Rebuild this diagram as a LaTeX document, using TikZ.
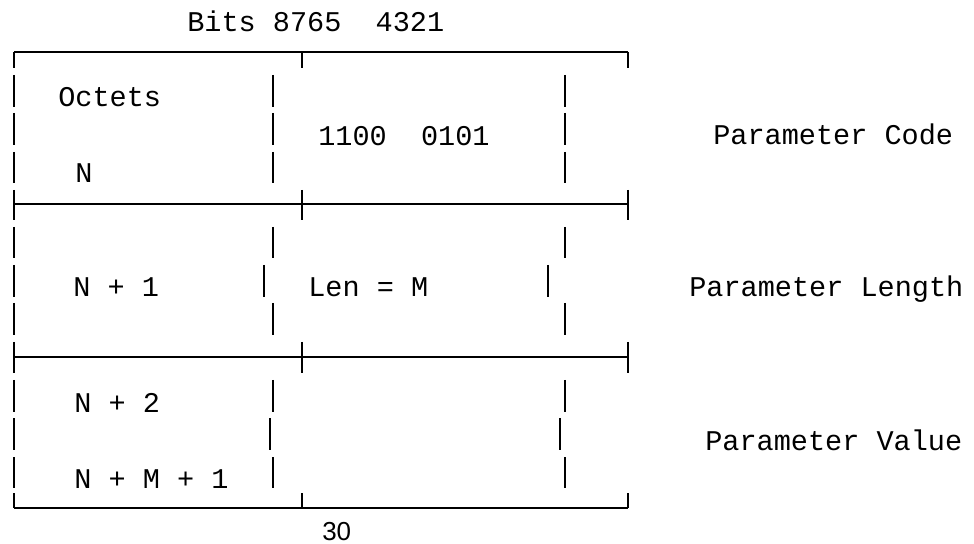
\documentclass[tikz,border=0pt]{standalone}
\usepackage{fontspec}
\setmainfont{Liberation Sans}
\newfontfamily\monofont{Liberation Mono}

\tikzset{
  veld/.style={anchor=base west, inner sep=0pt, font=\monofont\fontsize{20.3}{24}\selectfont},
  lijn/.style={line width=0.8pt}
}

\begin{document}
\begin{tikzpicture}[x=0.025cm,y=-0.025cm]
    \useasboundingbox (0,0) rectangle (974,544);

    % Horizontale lijnen
    \foreach \y in {52,204,357,508}
      \draw[lijn] (14,\y) -- (628,\y);

    % Hoeken en kruisingen
    \foreach \x in {14,302,628} {
      \draw[lijn] (\x,52) -- (\x,68);
      \draw[lijn] (\x,190) -- (\x,220);
      \draw[lijn] (\x,342) -- (\x,373);
      \draw[lijn] (\x,493) -- (\x,508);
    }

    % Verticale streepjes links
    \foreach \a/\b in {75/107,113/145,152/183,227/258,265/297,303/335,380/412,418/450,457/488}
      \draw[lijn] (14,\a) -- (14,\b);

    % Verticale streepjes binnen: boven/onder/links/rechts
    \foreach \a/\b/\l/\r in {75/107/273/565,113/145/273/565,152/183/273/565,
                             227/258/273/565,265/297/264/548,303/335/273/565,
                             380/412/273/565,418/450/270/560,457/488/273/565} {
      \draw[lijn] (\l,\a) -- (\l,\b);
      \draw[lijn] (\r,\a) -- (\r,\b);
    }

    % Teksten
    \node[veld] (bits) at (187,32) {Bits 8765\ \ 4321};
    \node[veld] (octets) at (58,107) {Octets};
    \node[veld] (n) at (75,183) {N};
    \node[veld] (code) at (318,146) {1100\ \ 0101};
    \node[veld] (pcode) at (713,145) {Parameter Code};
    \node[veld] (n1) at (73,297) {N + 1};
    \node[veld] (len) at (308,297) {Len = M};
    \node[veld] (plength) at (689,297) {Parameter Length};
    \node[veld] (n2) at (74,412) {N + 2};
    \node[veld] (nm1) at (74,488) {N + M + 1};
    \node[veld] (pvalue) at (705,450) {Parameter Value};
    \node[anchor=base west, inner sep=0pt, font=\fontsize{18.5}{22}\selectfont] (pagina) at (322,540) {30};
\end{tikzpicture}
\end{document}
